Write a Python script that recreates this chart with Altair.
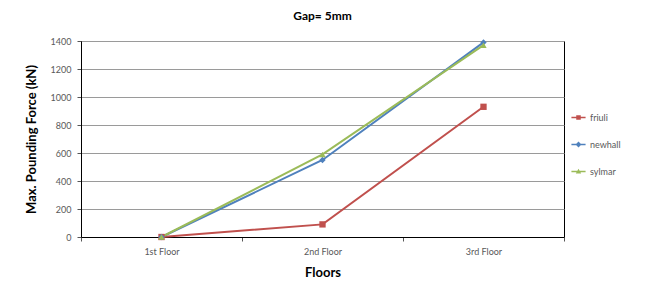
import altair as alt
import pandas as pd

floors = ["1st Floor", "2nd Floor", "3rd Floor"]
series_names = ["friuli", "newhall", "sylmar"]
friuli = [0, 90, 930]
newhall = [0, 550, 1390]
sylmar = [0, 590, 1370]
colors = ["#C0504D", "#4F81BD", "#9BBB59"]
shapes = ["square", "diamond", "triangle-up"]
legend_paths = [
    "M-1,-0.09H1V0.09H-1Z M-0.32,-0.32H0.32V0.32H-0.32Z",
    "M-1,-0.09H1V0.09H-1Z M0,-0.42L0.42,0L0,0.42L-0.42,0Z",
    "M-1,-0.09H1V0.09H-1Z M0,-0.38L0.38,0.3H-0.38Z",
]

rows = []
for name, vals in zip(series_names, [friuli, newhall, sylmar]):
    for f, v in zip(floors, vals):
        rows.append({"Floor": f, "Force": v, "Series": name, "Key": name})
df = pd.DataFrame(rows)

FONT = "Lato"

x = alt.X("Floor:N", sort=floors, title="Floors",
          scale=alt.Scale(paddingInner=0, paddingOuter=0),
          axis=alt.Axis(labelAngle=0, tickBand="extent", grid=False,
                        domainColor="#000000", tickColor="#555555", tickSize=4,
                        labelColor="#595959", labelFontSize=9, labelFont=FONT,
                        labelPadding=6,
                        titleFontSize=13, titleFont=FONT, titleFontWeight="bold",
                        titleColor="#000000", titlePadding=10))
y = alt.Y("Force:Q", title="Max. Pounding Force (kN)",
          scale=alt.Scale(domain=[0, 1400], nice=False),
          axis=alt.Axis(values=list(range(0, 1401, 200)), format="d", grid=True,
                        gridColor="#9a9a9a", gridWidth=1,
                        domainColor="#000000", tickColor="#555555", tickSize=4,
                        labelColor="#595959", labelFontSize=9, labelFont=FONT,
                        labelPadding=6,
                        titleFontSize=13, titleFont=FONT, titleFontWeight="bold",
                        titleColor="#000000", titlePadding=12))
color = alt.Color("Series:N", sort=series_names,
                  scale=alt.Scale(domain=series_names, range=colors),
                  legend=None)
shape = alt.Shape("Series:N", sort=series_names,
                  scale=alt.Scale(domain=series_names, range=shapes),
                  legend=None)

base = alt.Chart(df)
lines = base.mark_line(strokeWidth=2).encode(x=x, y=y, color=color)
points = base.mark_point(filled=True, size=40, opacity=1).encode(x=x, y=y, color=color, shape=shape)

key_legend = alt.Legend(title=None, orient="none", legendX=490, legendY=69,
                        labelFont=FONT, labelFontSize=9, labelColor="#595959",
                        rowPadding=14, symbolSize=200, symbolOpacity=1,
                        symbolStrokeWidth=0)
legend_layer = base.mark_point(filled=True, opacity=0).encode(
    x=x, y=y,
    color=alt.Color("Key:N", sort=series_names,
                    scale=alt.Scale(domain=series_names, range=colors),
                    legend=key_legend),
    shape=alt.Shape("Key:N", sort=series_names,
                    scale=alt.Scale(domain=series_names, range=legend_paths),
                    legend=key_legend),
)

chart = alt.layer(lines, points, legend_layer).resolve_scale(
    color="independent", shape="independent"
).properties(
    width=483, height=196,
    title=alt.TitleParams("Gap= 5mm", font=FONT, fontSize=12, fontWeight="bold",
                          color="#000000", anchor="middle", offset=14),
    autosize=alt.AutoSizeParams(type="none"),
    padding={"left": 73, "top": 33, "right": 85, "bottom": 41},
).configure_view(stroke="#000000", strokeWidth=1)

chart.save("out.html", embed_options={"renderer": "svg", "actions": False})
